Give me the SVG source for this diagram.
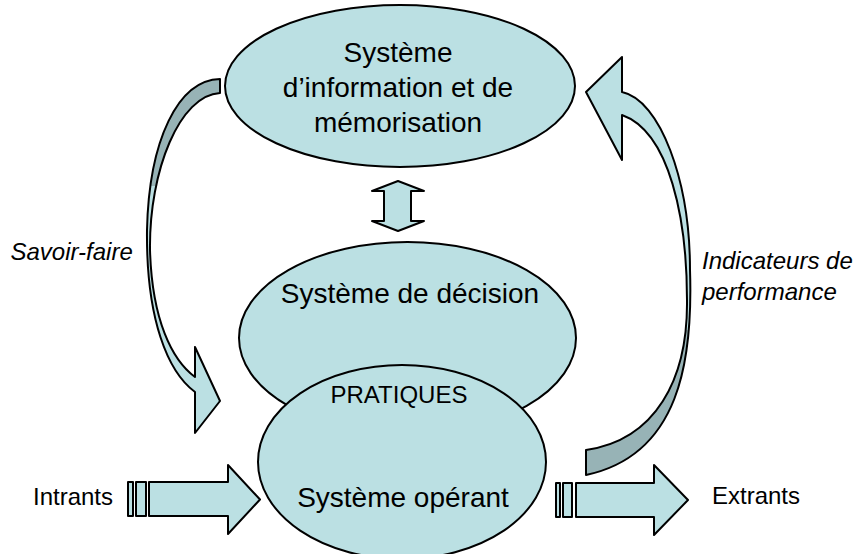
<svg xmlns="http://www.w3.org/2000/svg" width="859" height="554" viewBox="0 0 859 554">
<style>
.sh{fill:#BBE0E3;stroke:#000;stroke-width:2;stroke-linejoin:round}
.t{font-family:"Liberation Sans",Arial,sans-serif;fill:#000}
.big{font-size:28px;text-anchor:middle}
.lab{font-size:24px}
.it{font-style:italic}
</style>
<defs>
<linearGradient id="gL" gradientUnits="userSpaceOnUse" x1="0" y1="0" x2="0" y2="554">
<stop offset="0" stop-color="#97B3B6"/><stop offset="0.336" stop-color="#97B3B6"/><stop offset="0.336" stop-color="#BBE0E3"/><stop offset="1" stop-color="#BBE0E3"/>
</linearGradient>
<linearGradient id="gR" gradientUnits="userSpaceOnUse" x1="0" y1="0" x2="0" y2="554">
<stop offset="0" stop-color="#BBE0E3"/><stop offset="0.596" stop-color="#BBE0E3"/><stop offset="0.596" stop-color="#97B3B6"/><stop offset="1" stop-color="#97B3B6"/>
</linearGradient>
</defs>
<rect width="859" height="554" fill="#fff"/>
<g id="info">
<ellipse class="sh" cx="400" cy="86" rx="175" ry="81"/>
<text class="t big" x="398" y="62">Système</text>
<text class="t big" x="398" y="97">d’information et de</text>
<text class="t big" x="398" y="132">mémorisation</text>
</g>
<g id="decision">
<ellipse class="sh" cx="407.5" cy="338" rx="168.5" ry="96"/>
<text class="t big" x="410" y="303">Système de décision</text>
</g>
<g id="operant">
<ellipse class="sh" cx="402" cy="462" rx="144" ry="97"/>
<text class="t" x="399" y="403" font-size="24" text-anchor="middle">PRATIQUES</text>
<text class="t big" x="403" y="507">Système opérant</text>
</g>
<g id="connectors">
<path class="sh" d="M398,181 L424,191 L411,191 L411,221 L424,221 L398,231 L372,221 L384,221 L384,191 L372,191 Z"/>
<path class="sh" style="fill:url(#gL)" d="M220,79 C178,80 149,140 147,230 C146,320 168,372 195,392 L195,433 L220,401 L195,347 L195,377 C172,360 152,320 150,250 C149,170 180,95 220,93 Z"/>
<path class="sh" style="fill:url(#gR)" d="M586,92 L622,57 L622,92 C660,100 690,180 690,270 C693,360 680,455 586,475 L586,450 C655,440 688,380 687,300 C687,220 670,132 622,115 L622,160 Z"/>
<rect class="sh" x="128" y="482" width="5" height="34"/>
<rect class="sh" x="136" y="482" width="10" height="34"/>
<path class="sh" d="M149,482 L228,482 L228,465 L260,499.5 L228,534 L228,516 L149,516 Z"/>
<rect class="sh" x="556" y="483" width="4" height="34"/>
<rect class="sh" x="563" y="483" width="9" height="34"/>
<path class="sh" d="M576,483 L654,483 L654,465 L688,500 L654,535 L654,517 L576,517 Z"/>
<text class="t lab it" x="10.5" y="260">Savoir-faire</text>
<text class="t lab it" x="702" y="269">Indicateurs de</text>
<text class="t lab it" x="702" y="300">performance</text>
<text class="t lab" x="33" y="505">Intrants</text>
<text class="t lab" x="712" y="504">Extrants</text>
</g>
</svg>
